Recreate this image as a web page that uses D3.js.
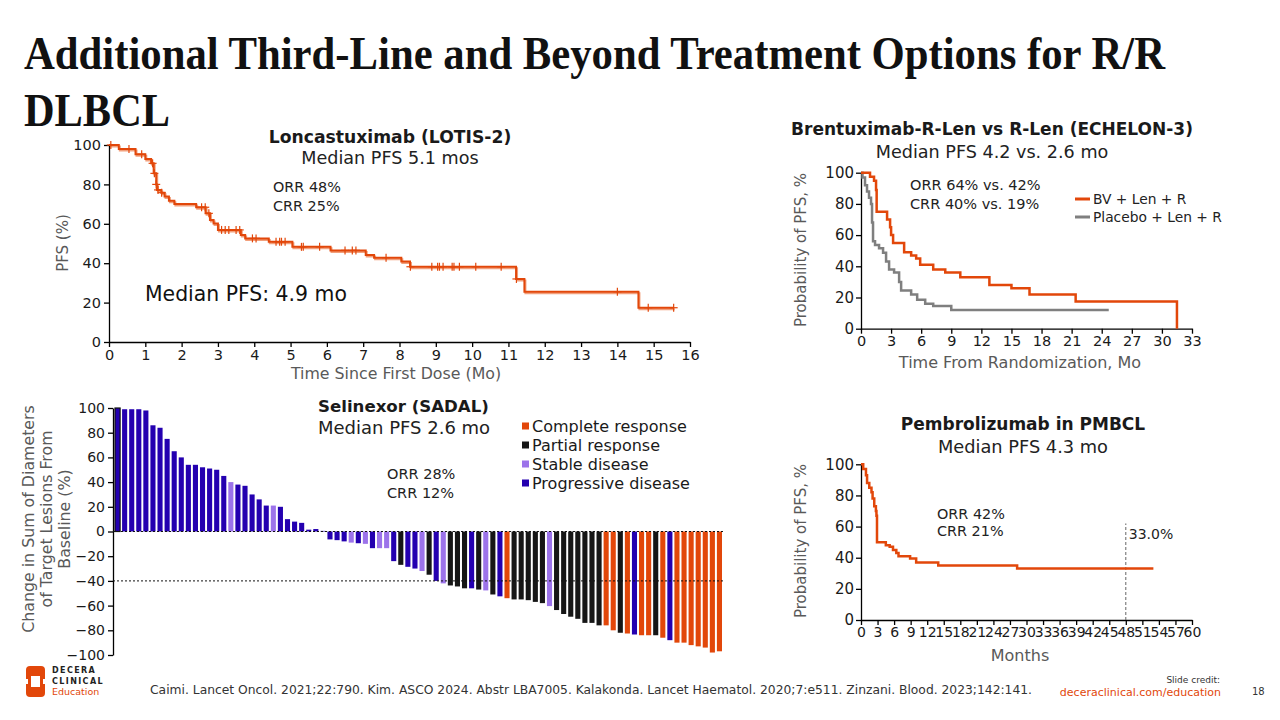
<!DOCTYPE html>
<html>
<head>
<meta charset="utf-8">
<script src="https://cdn.jsdelivr.net/npm/d3@7"></script>
<style>
  body { margin: 0; background: #fff; }
  svg text { font-family: "DejaVu Sans", sans-serif; }
</style>
</head>
<body>
<script>
var orange = "#e2470a", gray = "#7f7f7f", labelGray = "#595959";
var sans = "'DejaVu Sans', sans-serif";

// ---- LOTIS-2 (loncastuximab) KM ----
var lotisTime = [0, 0.27, 0.73, 1.0, 1.16, 1.23, 1.3, 1.32, 1.44, 1.53, 1.65, 1.8, 2.4, 2.66, 2.78, 2.88, 3.0, 3.63, 3.75, 4.4, 5.05, 6.1, 7.07, 7.3, 8.05, 8.29, 11.21, 11.44, 14.58, 15.55];
var lotisPfs  = [100, 98, 95.3, 92.9, 90.7, 85.6, 80, 77.2, 75.8, 73.8, 71.7, 70, 68.4, 65.3, 61.9, 60.2, 56.9, 54.3, 52.6, 50.9, 48.3, 46.5, 44.2, 42.8, 40.8, 38.2, 32, 25.5, 17.4, 17.4];
var lotisCensor = [0.05, 0.55, 0.9, 1.2, 1.25, 1.3, 1.35, 1.45, 2.55, 2.65, 2.75, 3.1, 3.2, 3.3, 3.5, 3.6, 3.95, 4.05, 4.6, 4.7, 4.75, 4.85, 5.3, 5.35, 5.8, 6.5, 6.7, 6.8, 7.63, 8.3, 8.89, 9.05, 9.1, 9.2, 9.45, 9.5, 9.65, 10.1, 10.8, 11.22, 14.0, 14.85, 15.55];
var lotisXTicks = [0, 1, 2, 3, 4, 5, 6, 7, 8, 9, 10, 11, 12, 13, 14, 15, 16];
var pctTicks = [0, 20, 40, 60, 80, 100];

// ---- ECHELON-3 KM ----
var bvTime = [0, 0.9, 1.3, 1.5, 1.56, 2.6, 2.9, 3.0, 3.2, 4.3, 5.0, 5.5, 5.9, 7.2, 8.4, 9.9, 12.8, 15.0, 16.8, 21.4, 31.5];
var bvPfs  = [100, 97.4, 94.9, 88.9, 75, 70, 65, 60, 55, 49, 47, 45, 41, 38, 36, 33, 28, 26, 22, 17.5, 0];
var pboTime = [0, 0.15, 0.4, 0.6, 0.8, 1.0, 1.1, 1.2, 1.4, 1.8, 2.2, 2.5, 2.8, 3.3, 3.8, 4.0, 5.0, 5.6, 6.4, 7.2, 9.0, 24.7];
var pboPfs  = [100, 97, 92, 88, 84, 80, 68, 56, 53.6, 51.5, 48.7, 43, 38, 36, 30, 24.5, 22, 18.5, 16, 14.5, 12, 12];
var echXTicks = [0, 3, 6, 9, 12, 15, 18, 21, 24, 27, 30, 33];

// ---- Pembrolizumab PMBCL KM ----
var pemTime = [0, 0.4, 0.9, 1.1, 1.5, 1.9, 2.1, 2.4, 2.7, 2.8, 2.9, 4.5, 5.2, 5.8, 6.4, 6.8, 8.9, 10.0, 14.0, 28.3, 53];
var pemPfs  = [100, 97, 93, 88, 85, 82, 78, 73, 70, 67, 50, 48, 47, 45, 43, 41, 39.5, 37, 35, 33, 33];
var pemXTicks = [0, 3, 6, 9, 12, 15, 18, 21, 24, 27, 30, 33, 36, 39, 42, 45, 48, 51, 54, 57, 60];
var pemMarkMonth = 48, pemMarkPct = 33.0;

// ---- SADAL waterfall ----
var sadalChange = [100, 99, 99, 99, 98, 86, 84, 75, 65, 60, 54, 54, 52, 51, 50, 45, 40, 38, 37, 30, 26, 21, 21, 20, 10, 8, 7, 1.5, 2, 0.5,
  -6.4, -7, -8, -9, -9.5, -10, -13.5, -13.5, -13.5, -24, -27, -28.6, -30, -32, -35, -40, -42, -43.7, -44.5, -46, -46, -47, -47.7, -51, -52.5, -54,
  -55, -55, -55.6, -57, -58, -60.4, -63.6, -66.8, -69, -70.7, -74, -74, -76, -76, -80, -82, -82.6, -83.4, -84, -84, -84, -86, -88, -90, -90, -92, -93, -94, -98, -97];
var sadalResp = ["PD","PD","PD","PD","PD","PD","PD","PD","PD","PD","PD","PD","PD","PD","PD","PD","SD","PD","PD","PD","PD","PD","SD","PD","PD","PD","PD","PD","PD","PD",
  "PD","PD","PD","SD","PD","SD","PD","SD","SD","PD","PR","PD","PD","SD","PR","PD","SD","PR","PR","PR","PD","PR","SD","PR","PD","CR",
  "PR","PR","PR","PR","PR","SD","PR","PR","PR","PR","PR","PR","PR","CR","CR","PR","CR","PD","CR","CR","PR","CR","PD","CR","CR","CR","CR","CR","CR","CR"];
var respKeys = ["CR", "PR", "SD", "PD"];
var respNames = ["Complete response", "Partial response", "Stable disease", "Progressive disease"];
var respColors = ["#e2470a", "#161616", "#9c73ea", "#2400b0"];
var sadalTicks = [100, 80, 60, 40, 20, 0, -20, -40, -60, -80, -100];

var svg = d3.select("body").append("svg")
  .attr("width", 1280).attr("height", 720);

// ---------- title ----------
svg.append("text").attr("x", 24).attr("y", 69)
  .style("font-family", "'Liberation Serif', 'Times New Roman', serif")
  .style("font-weight", "bold").style("font-size", "46px").attr("fill", "#111")
  .attr("textLength", 1141).attr("lengthAdjust", "spacingAndGlyphs")
  .text("Additional Third-Line and Beyond Treatment Options for R/R");
svg.append("text").attr("x", 24).attr("y", 126)
  .style("font-family", "'Liberation Serif', 'Times New Roman', serif")
  .style("font-weight", "bold").style("font-size", "46px").attr("fill", "#111")
  .attr("textLength", 146).attr("lengthAdjust", "spacingAndGlyphs")
  .text("DLBCL");

function addText(x, y, str, size, opts) {
  opts = opts || {};
  var t = svg.append("text").attr("x", x).attr("y", y)
    .style("font-size", size + "px")
    .attr("fill", opts.fill || "#1a1a1a")
    .attr("text-anchor", opts.anchor || "start")
    .text(str);
  if (opts.bold) t.style("font-weight", "bold");
  if (opts.rotate) t.attr("transform", "rotate(-90," + x + "," + y + ")");
  return t;
}

function styleAxis(g, size) {
  g.selectAll("path, line").attr("stroke", "#000").attr("stroke-width", 1.3);
  g.selectAll("text").style("font-size", size + "px").attr("fill", "#1a1a1a")
    .style("font-family", sans);
}

function kmPoints(times, vals) {
  return times.map(function (t, i) { return [t, vals[i]]; });
}

function stepValue(times, vals, t) {
  var v = vals[0];
  for (var i = 0; i < times.length; i++) { if (times[i] <= t) v = vals[i]; }
  return v;
}

// ---------- LOTIS-2 ----------
(function () {
  var x = d3.scaleLinear().domain([0, 16]).range([109, 690]);
  var y = d3.scaleLinear().domain([0, 100]).range([342, 145]);
  var gx = svg.append("g").attr("transform", "translate(0," + y(0) + ")")
    .call(d3.axisBottom(x).tickValues(lotisXTicks).tickSize(5).tickSizeOuter(0).tickPadding(3));
  styleAxis(gx, 14.5);
  var gy = svg.append("g").attr("transform", "translate(" + x(0) + ",0)")
    .call(d3.axisLeft(y).tickValues(pctTicks).tickSize(5).tickSizeOuter(0).tickPadding(3));
  styleAxis(gy, 14.5);

  var line = d3.line().x(function (d) { return x(d[0]); }).y(function (d) { return y(d[1]); })
    .curve(d3.curveStepAfter);
  var pts = kmPoints(lotisTime, lotisPfs);
  svg.append("path").datum(pts).attr("d", line).attr("fill", "none")
    .attr("stroke", "#f2a07c").attr("stroke-width", 2).attr("transform", "translate(1,1.5)");
  svg.append("path").datum(pts).attr("d", line).attr("fill", "none")
    .attr("stroke", orange).attr("stroke-width", 2);

  var cg = svg.append("g").attr("stroke", orange).attr("stroke-width", 1.2);
  lotisCensor.forEach(function (t) {
    var cx = x(t), cy = y(stepValue(lotisTime, lotisPfs, t));
    cg.append("line").attr("x1", cx).attr("x2", cx).attr("y1", cy - 4).attr("y2", cy + 4);
    cg.append("line").attr("x1", cx - 4).attr("x2", cx + 4).attr("y1", cy).attr("y2", cy);
  });

  addText(390, 143, "Loncastuximab (LOTIS-2)", 17.2, {anchor: "middle", bold: true});
  addText(390, 164, "Median PFS 5.1 mos", 17.6, {anchor: "middle", fill: "#222"});
  addText(273, 192, "ORR 48%", 14.4, {fill: "#222"});
  addText(273, 211, "CRR 25%", 14.4, {fill: "#222"});
  addText(145, 301, "Median PFS: 4.9 mo", 20.4, {fill: "#111"});
  addText(68, 243, "PFS (%)", 15, {anchor: "middle", fill: labelGray, rotate: true});
  addText(396, 379, "Time Since First Dose (Mo)", 15.8, {anchor: "middle", fill: labelGray});
})();

// ---------- ECHELON-3 ----------
(function () {
  var x = d3.scaleLinear().domain([0, 33]).range([861, 1192]);
  var y = d3.scaleLinear().domain([0, 100]).range([328.7, 172.7]);
  var gx = svg.append("g").attr("transform", "translate(0," + y(0) + ")")
    .call(d3.axisBottom(x).tickValues(echXTicks).tickSize(5).tickSizeOuter(0).tickPadding(2));
  styleAxis(gx, 14.5);
  var gy = svg.append("g").attr("transform", "translate(" + x(0) + ",0)")
    .call(d3.axisLeft(y).tickValues(pctTicks).tickSize(5).tickSizeOuter(0).tickPadding(2));
  styleAxis(gy, 15);

  var line = d3.line().x(function (d) { return x(d[0]); }).y(function (d) { return y(d[1]); })
    .curve(d3.curveStepAfter);
  svg.append("path").datum(kmPoints(pboTime, pboPfs)).attr("d", line).attr("fill", "none")
    .attr("stroke", gray).attr("stroke-width", 2.5);
  svg.append("path").datum(kmPoints(bvTime, bvPfs)).attr("d", line).attr("fill", "none")
    .attr("stroke", orange).attr("stroke-width", 2.5);

  addText(992, 135, "Brentuximab-R-Len vs R-Len (ECHELON-3)", 17, {anchor: "middle", bold: true});
  addText(992, 158, "Median PFS 4.2 vs. 2.6 mo", 17.6, {anchor: "middle", fill: "#222"});
  addText(910, 190, "ORR 64% vs. 42%", 14.5, {fill: "#222"});
  addText(910, 209, "CRR 40% vs. 19%", 14.5, {fill: "#222"});

  svg.append("line").attr("x1", 1075).attr("x2", 1090).attr("y1", 199).attr("y2", 199)
    .attr("stroke", orange).attr("stroke-width", 3);
  addText(1093, 204, "BV + Len + R", 13.8, {fill: "#222"});
  svg.append("line").attr("x1", 1075).attr("x2", 1090).attr("y1", 217).attr("y2", 217)
    .attr("stroke", gray).attr("stroke-width", 3);
  addText(1093, 222, "Placebo + Len + R", 13.8, {fill: "#222"});

  addText(806, 250, "Probability of PFS, %", 15, {anchor: "middle", fill: labelGray, rotate: true});
  addText(1020, 368, "Time From Randomization, Mo", 16, {anchor: "middle", fill: labelGray});
})();

// ---------- Pembrolizumab ----------
(function () {
  var x = d3.scaleLinear().domain([0, 60]).range([861, 1192]);
  var y = d3.scaleLinear().domain([0, 100]).range([620, 464.3]);
  var gx = svg.append("g").attr("transform", "translate(0," + y(0) + ")")
    .call(d3.axisBottom(x).tickValues(pemXTicks).tickSize(5).tickSizeOuter(0).tickPadding(2));
  styleAxis(gx, 14);
  var gy = svg.append("g").attr("transform", "translate(" + x(0) + ",0)")
    .call(d3.axisLeft(y).tickValues(pctTicks).tickSize(5).tickSizeOuter(0).tickPadding(2));
  styleAxis(gy, 15);

  svg.append("line").attr("x1", x(pemMarkMonth)).attr("x2", x(pemMarkMonth))
    .attr("y1", y(0)).attr("y2", y(62))
    .attr("stroke", "#666").attr("stroke-width", 1).attr("stroke-dasharray", "3,2");

  var line = d3.line().x(function (d) { return x(d[0]); }).y(function (d) { return y(d[1]); })
    .curve(d3.curveStepAfter);
  svg.append("path").datum(kmPoints(pemTime, pemPfs)).attr("d", line).attr("fill", "none")
    .attr("stroke", orange).attr("stroke-width", 2.5);

  addText(1023, 430, "Pembrolizumab in PMBCL", 17, {anchor: "middle", bold: true});
  addText(1023, 453, "Median PFS 4.3 mo", 17.8, {anchor: "middle", fill: "#222"});
  addText(937, 519, "ORR 42%", 14.4, {fill: "#222"});
  addText(937, 536, "CRR 21%", 14.4, {fill: "#222"});
  addText(x(pemMarkMonth) + 3, 539, pemMarkPct.toFixed(1) + "%", 14, {fill: "#222"});
  addText(806, 541, "Probability of PFS, %", 15, {anchor: "middle", fill: labelGray, rotate: true});
  addText(1020, 661, "Months", 16, {anchor: "middle", fill: labelGray});
})();

// ---------- SADAL waterfall ----------
(function () {
  var x = d3.scaleBand().domain(d3.range(sadalChange.length)).range([115, 722]).paddingInner(0.28);
  var y = d3.scaleLinear().domain([-100, 100]).range([655, 408]);
  var color = d3.scaleOrdinal().domain(respKeys).range(respColors);

  var gy = svg.append("g").attr("transform", "translate(113,0)")
    .call(d3.axisLeft(y).tickValues(sadalTicks).tickSize(5).tickSizeOuter(0).tickPadding(3));
  styleAxis(gy, 14);

  svg.append("g").selectAll("rect").data(sadalChange).enter().append("rect")
    .attr("x", function (d, i) { return x(i); })
    .attr("width", x.bandwidth())
    .attr("y", function (d) { return y(Math.max(0, d)); })
    .attr("height", function (d) { return Math.abs(y(d) - y(0)); })
    .attr("fill", function (d, i) { return color(sadalResp[i]); })
    .attr("stroke", function (d, i) { return i === 0 ? "#111" : "none"; })
    .attr("stroke-width", 1.2);

  [0, -40].forEach(function (v) {
    svg.append("line").attr("x1", 113).attr("x2", 725).attr("y1", y(v)).attr("y2", y(v))
      .attr("stroke", "#111").attr("stroke-width", 1).attr("stroke-dasharray", "2,2");
  });

  addText(318, 412, "Selinexor (SADAL)", 16.6, {bold: true});
  addText(318, 434, "Median PFS 2.6 mo", 18, {fill: "#222"});
  addText(387, 479, "ORR 28%", 14.5, {fill: "#222"});
  addText(387, 498, "CRR 12%", 14.5, {fill: "#222"});

  respNames.forEach(function (name, i) {
    var cy = 426 + i * 19;
    svg.append("rect").attr("x", 522).attr("y", cy - 3.5).attr("width", 7).attr("height", 7)
      .attr("fill", respColors[i]);
    addText(532, cy + 5.5, name, 16, {fill: "#1a1a1a"});
  });

  addText(34, 519, "Change in Sum of Diameters", 15.8, {anchor: "middle", fill: labelGray, rotate: true});
  addText(52, 519, "of Target Lesions From", 15.8, {anchor: "middle", fill: labelGray, rotate: true});
  addText(70, 519, "Baseline (%)", 15.8, {anchor: "middle", fill: labelGray, rotate: true});
})();

// ---------- footer ----------
svg.append("rect").attr("x", 26).attr("y", 666).attr("width", 19).attr("height", 31).attr("rx", 4).attr("fill", orange);
svg.append("rect").attr("x", 31).attr("y", 676).attr("width", 9).attr("height", 11).attr("fill", "#fff");
svg.append("rect").attr("x", 24).attr("y", 679).attr("width", 4).attr("height", 5).attr("fill", "#fff");
svg.append("rect").attr("x", 43).attr("y", 679).attr("width", 4).attr("height", 5).attr("fill", "#fff");
addText(52, 673, "DECERA", 8, {bold: true, fill: "#222"}).style("letter-spacing", "1.4px");
addText(52, 684, "CLINICAL", 8, {bold: true, fill: "#222"}).style("letter-spacing", "1.4px");
addText(52, 695, "Education", 9.5, {fill: orange});

addText(150, 694, "Caimi. Lancet Oncol. 2021;22:790. Kim. ASCO 2024. Abstr LBA7005. Kalakonda. Lancet Haematol. 2020;7:e511. Zinzani. Blood. 2023;142:141.", 12, {fill: "#333"})
  .attr("textLength", 882).attr("lengthAdjust", "spacingAndGlyphs");
addText(1220, 683, "Slide credit:", 9, {anchor: "end", fill: "#333"});
addText(1221, 696, "deceraclinical.com/education", 11, {anchor: "end", fill: orange});
addText(1252, 695, "18", 10, {fill: "#333"});
</script>
</body>
</html>
